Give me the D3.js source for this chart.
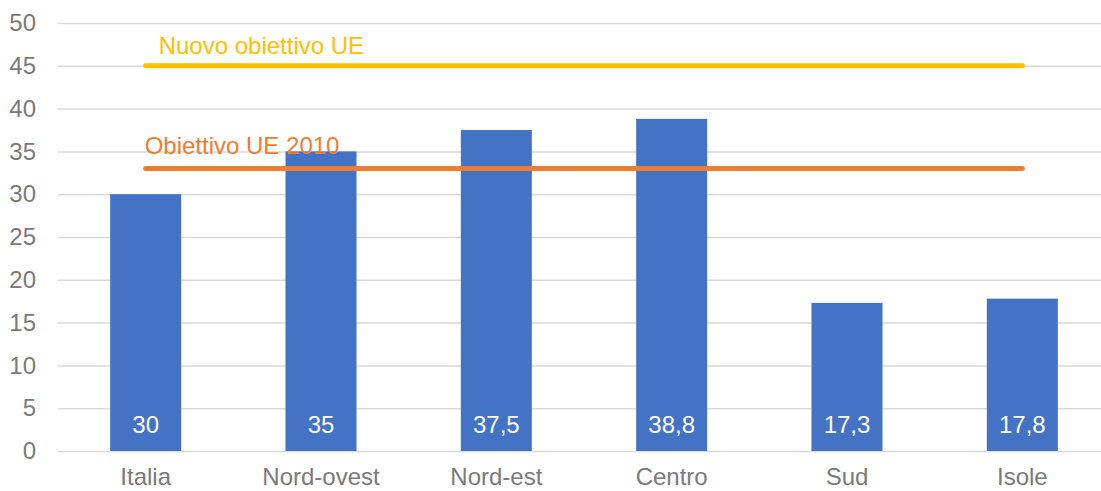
<!DOCTYPE html>
<html>
<head>
<meta charset="utf-8">
<script src="https://cdn.jsdelivr.net/npm/d3@7"></script>
<style>
  body { margin: 0; background: #fff; }
  svg { display: block; font-family: "Liberation Sans", Arial, sans-serif; }
</style>
</head>
<body>
<div id="chart"></div>
<script>
var width = 1101;
var height = 491;

// data
var regions = ["Italia", "Nord-ovest", "Nord-est", "Centro", "Sud", "Isole"];
var values = [30, 35, 37.5, 38.8, 17.3, 17.8];
var valueLabels = ["30", "35", "37,5", "38,8", "17,3", "17,8"];
var yTicks = [0, 5, 10, 15, 20, 25, 30, 35, 40, 45, 50];
var targetNames = ["Nuovo obiettivo UE", "Obiettivo UE 2010"];
var targetValues = [45, 33];
var targetColors = ["#FFC000", "#ED7D31"];

var margin = { top: 23, right: -9, bottom: 40, left: 58 };

var svg = d3.select("#chart").append("svg")
  .attr("width", width)
  .attr("height", height);

var x = d3.scaleBand()
  .domain(regions)
  .range([margin.left, width - margin.right])
  .paddingInner(0.595)
  .paddingOuter(0.2975);

var y = d3.scaleLinear()
  .domain([0, 50])
  .range([height - margin.bottom, margin.top]);

// gridlines + tick labels
var yAxis = svg.append("g")
  .attr("transform", "translate(" + margin.left + ",0)")
  .call(d3.axisLeft(y).tickValues(yTicks).tickSize(-(width - margin.right - margin.left)).tickPadding(22));
yAxis.select(".domain").remove();
yAxis.selectAll(".tick line").attr("stroke", "#D9D9D9").attr("stroke-width", 1.5);
yAxis.selectAll(".tick text")
  .attr("fill", "#7a7a7a")
  .attr("font-size", "24px")
  .attr("font-family", "Liberation Sans, Arial, sans-serif");

// bars
svg.selectAll("rect.bar")
  .data(values)
  .enter().append("rect")
  .attr("class", "bar")
  .attr("x", function(d, i) { return x(regions[i]); })
  .attr("y", function(d) { return y(d); })
  .attr("width", x.bandwidth())
  .attr("height", function(d) { return y(0) - y(d); })
  .attr("fill", "#4472C4");

// value labels inside bars
svg.selectAll("text.val")
  .data(valueLabels)
  .enter().append("text")
  .attr("class", "val")
  .attr("x", function(d, i) { return x(regions[i]) + x.bandwidth() / 2; })
  .attr("y", y(0) - 18)
  .attr("text-anchor", "middle")
  .attr("fill", "#fff")
  .attr("font-size", "24px")
  .text(function(d) { return d; });

// category axis
var xAxis = svg.append("g")
  .attr("transform", "translate(0," + y(0) + ")")
  .call(d3.axisBottom(x).tickSize(0).tickPadding(17));
xAxis.select(".domain").remove();
xAxis.selectAll(".tick text")
  .attr("fill", "#7a7a7a")
  .attr("font-size", "24px")
  .attr("font-family", "Liberation Sans, Arial, sans-serif");

// target lines
var first = x(regions[0]) + x.bandwidth() / 2;
var last = x(regions[regions.length - 1]) + x.bandwidth() / 2;

targetValues.forEach(function(v, i) {
  svg.append("line")
    .attr("x1", first)
    .attr("x2", last)
    .attr("y1", y(v))
    .attr("y2", y(v))
    .attr("stroke", targetColors[i])
    .attr("stroke-width", 5)
    .attr("stroke-linecap", "round");
});

// target labels
svg.append("text")
  .attr("x", first + 13)
  .attr("y", y(targetValues[0]) - 12)
  .attr("fill", targetColors[0])
  .attr("font-size", "24px")
  .text(targetNames[0]);

svg.append("text")
  .attr("x", first - 1)
  .attr("y", y(targetValues[1]) - 15)
  .attr("fill", targetColors[1])
  .attr("font-size", "24px")
  .text(targetNames[1]);
</script>
</body>
</html>
